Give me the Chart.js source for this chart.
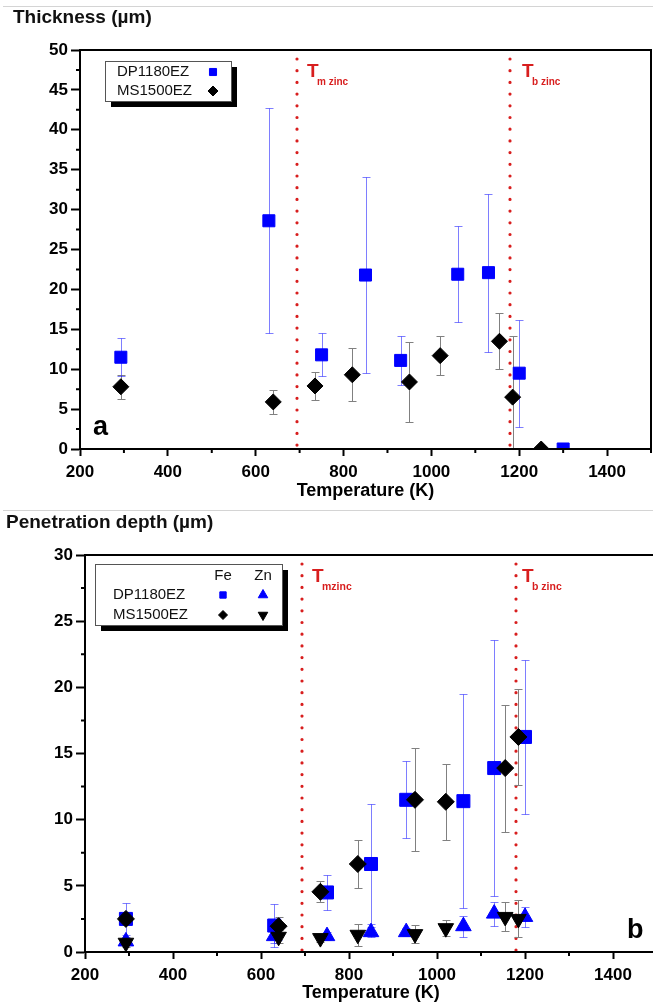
<!DOCTYPE html>
<html lang="en">
<head>
<meta charset="UTF-8">
<title>Thickness and penetration depth vs temperature</title>
<script src="https://cdn.jsdelivr.net/npm/chart.js"></script>
<style>
  body { margin: 0; width: 653px; height: 1007px; overflow: hidden; position: relative; background: #fff;
         font-family: Arial, "Liberation Sans", sans-serif; }
  .rule { position: absolute; left: 3px; right: 0; height: 1px; background: #d4d4d4; }
  .ttl { position: absolute; font-weight: bold; font-size: 19px; line-height: 22px; color: #111; z-index: 2; white-space: nowrap; }
  canvas { position: absolute; left: 0; }
</style>
</head>
<body>
<div class="rule" style="top:6px"></div>
<div class="ttl" style="left:13px;top:6px">Thickness (µm)</div>
<canvas id="grafA" width="653" height="505" style="top:0"></canvas>
<div class="rule" style="top:510px"></div>
<div class="ttl" style="left:6px;top:511px">Penetration depth (µm)</div>
<canvas id="grafB" width="660" height="497" style="top:510px"></canvas>

<script>
// series names
const seriesNames = ['DP1180EZ', 'MS1500EZ'];
const elementNames = ['Fe', 'Zn'];

// temperatures (K)
const tempDP = [293, 630, 750, 850, 930, 1060, 1130, 1200, 1300];
const tempMS = [293, 640, 735, 820, 950, 1020, 1155, 1185, 1250];

// (a) thickness, µm, with error (+/-)
const thickDP    = [11.5, 28.6, 11.8, 21.8, 11.1, 21.9, 22.1, 9.5, 0];
const thickDPerr = [2.4, 14.1, 2.7, 12.3, 3.1, 6.0, 9.9, 6.7, 0];
const thickMS    = [7.8, 5.9, 7.9, 9.3, 8.4, 11.7, 13.5, 6.5, 0];
const thickMSerr = [1.5, 1.5, 1.8, 3.3, 5.0, 2.4, 3.5, 7.7, 0];

// (b) penetration depth, µm (first 8 temperatures)
const feDP    = [2.5, 2.0, 4.5, 6.65, 11.5, 11.4, 13.9, 16.25];
const feDPerr = [1.2, 1.6, 1.3, 4.5, 2.9, 8.1, 9.7, 5.8];
const feMS    = [2.5, 1.95, 4.55, 6.65, 11.5, 11.35, 13.9, 16.25];
const feMSerr = [0.4, 0.7, 0.8, 1.8, 3.9, 2.85, 4.8, 3.6];
const znDP    = [0.8, 1.2, 1.2, 1.5, 1.5, 1.95, 2.9, 2.65];
const znDPerr = [0.3, 0.5, 0.3, 0.4, 0.3, 0.8, 0.9, 0.75];
const znMS    = [0.7, 1.15, 1.05, 1.3, 1.35, 1.8, 2.65, 2.5];
const znMSerr = [0.3, 0.5, 0.3, 0.85, 0.7, 0.6, 1.1, 1.4];

// zinc melting / boiling points (K)
const tMelt = 693;
const tBoil = 1180;

const azul = '#0000ff';
const negro = '#000000';
const rojo = '#d81e1e';

Chart.defaults.font.family = 'Arial, "Liberation Sans", sans-serif';
Chart.defaults.color = '#000';

function puntos(xs, ys) {
  return ys.map((y, i) => ({ x: xs[i], y: y }));
}

function marca(ctx, estilo, color, r, x, y, rot) {
  ctx.fillStyle = color;
  ctx.strokeStyle = color;
  Chart.helpers.drawPoint(ctx, { pointStyle: estilo, radius: r, rotation: rot || 0, borderWidth: 1 }, x, y);
}

const pluginFigura = {
  id: 'figura',
  beforeDatasetsDraw(chart) {
    const { ctx, chartArea: a, scales: { x, y } } = chart;
    const o = chart.options.plugins.figura;
    ctx.save();
    // zinc transition lines
    ctx.strokeStyle = rojo;
    ctx.lineWidth = 3.2;
    ctx.lineCap = 'round';
    ctx.setLineDash([0, 11.7]);
    o.lineas.forEach(l => {
      const px = Math.round(x.getPixelForValue(l.t));
      ctx.beginPath();
      ctx.moveTo(px, a.top + 9);
      ctx.lineTo(px, a.bottom);
      ctx.stroke();
    });
    ctx.setLineDash([]);
    ctx.lineCap = 'butt';
    // error bars
    ctx.beginPath();
    ctx.rect(a.left, a.top, a.right - a.left, a.bottom - a.top);
    ctx.clip();
    chart.data.datasets.forEach((ds, di) => {
      const meta = chart.getDatasetMeta(di);
      ctx.strokeStyle = ds.errorColor;
      ctx.lineWidth = 1;
      meta.data.forEach((pt, i) => {
        const e = ds.errores[i];
        if (!e) return;
        const v = ds.data[i].y;
        const x0 = Math.round(pt.x) + 0.5;
        const y1 = Math.round(y.getPixelForValue(v + e)) + 0.5;
        const y2 = Math.round(y.getPixelForValue(v - e)) + 0.5;
        ctx.beginPath();
        ctx.moveTo(x0, y1); ctx.lineTo(x0, y2);
        ctx.moveTo(x0 - 4, y1); ctx.lineTo(x0 + 4, y1);
        ctx.moveTo(x0 - 4, y2); ctx.lineTo(x0 + 4, y2);
        ctx.stroke();
      });
    });
    ctx.restore();
  },
  afterDraw(chart) {
    const { ctx, chartArea: a, scales: { x, y } } = chart;
    const o = chart.options.plugins.figura;
    ctx.save();
    // frame
    ctx.strokeStyle = '#000';
    ctx.lineWidth = 2;
    ctx.strokeRect(a.left, a.top, a.right - a.left, a.bottom - a.top);
    // minor ticks
    ctx.lineWidth = 2;
    ctx.beginPath();
    for (let t = 300; t <= 1500; t += 200) {
      const px = x.getPixelForValue(t);
      ctx.moveTo(px, a.bottom); ctx.lineTo(px, a.bottom + 4);
    }
    for (let v = 2.5; v < y.max; v += 5) {
      const py = y.getPixelForValue(v);
      ctx.moveTo(a.left, py); ctx.lineTo(a.left - 4, py);
    }
    ctx.stroke();
    // T labels
    ctx.fillStyle = rojo;
    ctx.textBaseline = 'alphabetic';
    ctx.textAlign = 'left';
    o.lineas.forEach(l => {
      const px = Math.round(x.getPixelForValue(l.t)) + l.dx;
      ctx.font = 'bold 19px Arial, "Liberation Sans", sans-serif';
      ctx.fillText('T', px, o.tY);
      ctx.font = 'bold ' + o.subSize + 'px Arial, "Liberation Sans", sans-serif';
      ctx.fillText(l.sub, px + 10, o.tY + 8);
    });
    // legend
    const L = o.leyenda;
    ctx.fillStyle = '#000';
    ctx.fillRect(L.x + 6, L.y + 6, L.w, L.h);
    ctx.fillStyle = '#fff';
    ctx.fillRect(L.x, L.y, L.w, L.h);
    ctx.strokeStyle = '#555';
    ctx.lineWidth = 1;
    ctx.strokeRect(L.x + 0.5, L.y + 0.5, L.w, L.h);
    ctx.fillStyle = '#111';
    ctx.font = '15px Arial, "Liberation Sans", sans-serif';
    ctx.textBaseline = 'middle';
    (L.cabecera || []).forEach(c => {
      ctx.textAlign = 'center';
      ctx.fillText(c.texto, c.x, c.y);
    });
    L.filas.forEach(f => {
      ctx.textAlign = 'left';
      ctx.fillStyle = '#111';
      ctx.fillText(f.texto, L.tx, f.y);
      f.marcas.forEach(m => marca(ctx, m.estilo, m.color, m.r, m.x, f.y, m.rot));
    });
    // panel letter
    ctx.fillStyle = '#000';
    ctx.font = 'bold 27px Arial, "Liberation Sans", sans-serif';
    ctx.textAlign = 'left';
    ctx.textBaseline = 'alphabetic';
    ctx.fillText(o.letra.texto, o.letra.x, o.letra.y);
    ctx.restore();
  }
};

function escalas(ymax, yWidth, xHeight) {
  return {
    x: {
      type: 'linear', min: 200, max: 1500,
      afterFit: s => { s.height = xHeight; s.paddingLeft = 0; s.paddingRight = 0; },
      ticks: { stepSize: 200, includeBounds: false, padding: 6, maxRotation: 0,
               callback: v => String(v),
               font: { size: 17, weight: 'bold' }, color: '#000' },
      grid: { drawOnChartArea: false, tickLength: 7, tickWidth: 2, tickColor: '#000' },
      border: { color: '#000', width: 2 },
      title: { display: true, text: 'Temperature (K)', color: '#000',
               font: { size: 18, weight: 'bold' }, padding: { top: 0, bottom: 3 } }
    },
    y: {
      type: 'linear', min: 0, max: ymax,
      afterFit: s => { s.width = yWidth; },
      ticks: { stepSize: 5, padding: 3, font: { size: 17, weight: 'bold' }, color: '#000' },
      grid: { drawOnChartArea: false, tickLength: 9, tickWidth: 2, tickColor: '#000' },
      border: { color: '#000', width: 2 }
    }
  };
}

// (a) thickness
new Chart(document.getElementById('grafA'), {
  type: 'scatter',
  data: {
    datasets: [
      { label: seriesNames[1], data: puntos(tempMS, thickMS), errores: thickMSerr, errorColor: '#808080',
        pointStyle: 'rectRot', pointRadius: 8, backgroundColor: negro, borderColor: negro, borderWidth: 1 },
      { label: seriesNames[0], data: puntos(tempDP, thickDP), errores: thickDPerr, errorColor: 'rgba(40,40,255,0.6)',
        pointStyle: 'rect', pointRadius: 8.5, backgroundColor: azul, borderColor: azul, borderWidth: 1 }
    ]
  },
  options: {
    responsive: false, animation: false, devicePixelRatio: 1,
    layout: { autoPadding: false, padding: { top: 50, left: 0, right: 2, bottom: 0 } },
    scales: escalas(50, 80, 56),
    plugins: {
      legend: { display: false },
      tooltip: { enabled: false },
      figura: {
        lineas: [{ t: tMelt, dx: 10, sub: 'm zinc' }, { t: tBoil, dx: 12, sub: 'b zinc' }],
        tY: 77, subSize: 10,
        leyenda: {
          x: 105, y: 61, w: 126, h: 40, tx: 117,
          filas: [
            { texto: seriesNames[0], y: 72, marcas: [{ x: 213, estilo: 'rect', color: azul, r: 5 }] },
            { texto: seriesNames[1], y: 91, marcas: [{ x: 213, estilo: 'rectRot', color: negro, r: 5 }] }
          ]
        },
        letra: { texto: 'a', x: 93, y: 435 }
      }
    }
  },
  plugins: [pluginFigura]
});

// (b) penetration depth
const tDP8 = tempDP.slice(0, 8);
const tMS8 = tempMS.slice(0, 8);
new Chart(document.getElementById('grafB'), {
  type: 'scatter',
  data: {
    datasets: [
      { label: seriesNames[1] + ' ' + elementNames[0], data: puntos(tMS8, feMS), errores: feMSerr, errorColor: '#808080',
        pointStyle: 'rectRot', pointRadius: 8.5, backgroundColor: negro, borderColor: negro, borderWidth: 1 },
      { label: seriesNames[1] + ' ' + elementNames[1], data: puntos(tMS8, znMS), errores: znMSerr, errorColor: '#808080',
        pointStyle: 'triangle', pointRotation: 180, pointRadius: 9, backgroundColor: negro, borderColor: negro, borderWidth: 1 },
      { label: seriesNames[0] + ' ' + elementNames[0], data: puntos(tDP8, feDP), errores: feDPerr, errorColor: 'rgba(40,40,255,0.6)',
        pointStyle: 'rect', pointRadius: 9.2, backgroundColor: azul, borderColor: azul, borderWidth: 1 },
      { label: seriesNames[0] + ' ' + elementNames[1], data: puntos(tDP8, znDP), errores: znDPerr, errorColor: 'rgba(40,40,255,0.6)',
        pointStyle: 'triangle', pointRadius: 9, backgroundColor: azul, borderColor: azul, borderWidth: 1 }
    ]
  },
  options: {
    responsive: false, animation: false, devicePixelRatio: 1,
    layout: { autoPadding: false, padding: { top: 45, left: 0, right: 3, bottom: 0 } },
    scales: escalas(30, 85, 55),
    plugins: {
      legend: { display: false },
      tooltip: { enabled: false },
      figura: {
        lineas: [{ t: tMelt, dx: 10, sub: 'mzinc' }, { t: tBoil, dx: 6, sub: 'b zinc' }],
        tY: 72, subSize: 10.5,
        leyenda: {
          x: 95, y: 54, w: 187, h: 61, tx: 113,
          cabecera: [{ texto: elementNames[0], x: 223, y: 66 }, { texto: elementNames[1], x: 263, y: 66 }],
          filas: [
            { texto: seriesNames[0], y: 85, marcas: [
              { x: 223, estilo: 'rect', color: azul, r: 4.5 },
              { x: 263, estilo: 'triangle', color: azul, r: 5.5 } ] },
            { texto: seriesNames[1], y: 105, marcas: [
              { x: 223, estilo: 'rectRot', color: negro, r: 4.5 },
              { x: 263, estilo: 'triangle', color: negro, r: 5.5, rot: 180 } ] }
          ]
        },
        letra: { texto: 'b', x: 627, y: 428 }
      }
    }
  },
  plugins: [pluginFigura]
});
</script>
</body>
</html>
